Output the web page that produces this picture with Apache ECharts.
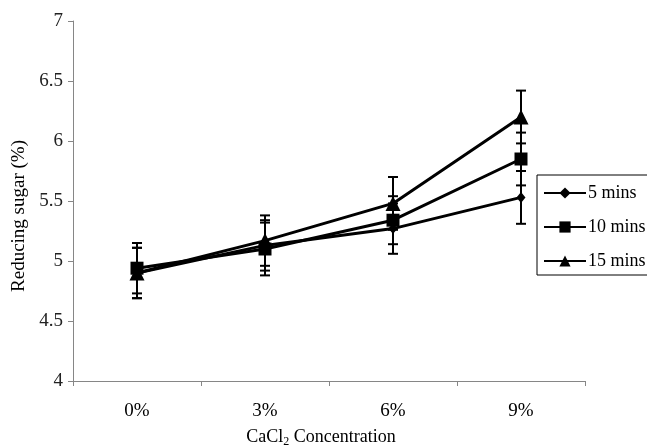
<!DOCTYPE html>
<html>
<head>
<meta charset="utf-8">
<script src="https://cdn.jsdelivr.net/npm/echarts@6/dist/echarts.min.js"></script>
<style>
  html, body { margin: 0; padding: 0; background: #fff; }
  #chart { width: 647px; height: 445px; }
</style>
</head>
<body>
<div id="chart"></div>
<script>
// CaCl2 concentration levels
const categories = ['0%', '3%', '6%', '9%'];

// Reducing sugar (%) per soaking time
const mins5 = [4.90, 5.13, 5.27, 5.53];
const mins10 = [4.94, 5.10, 5.34, 5.85];
const mins15 = [4.90, 5.17, 5.48, 6.20];

// Standard deviation for each point
const err5 = [0.21, 0.21, 0.21, 0.22];
const err10 = [0.21, 0.22, 0.20, 0.22];
const err15 = [0.21, 0.21, 0.22, 0.22];

const yTicks = [4, 4.5, 5, 5.5, 6, 6.5, 7];

const FONT = '"Liberation Serif", "Times New Roman", serif';

function errorData(values, errs) {
  return values.map((v, i) => [i, v - errs[i], v + errs[i]]);
}

function errorSeries(values, errs) {
  return {
    type: 'custom',
    silent: true,
    z: 1,
    data: errorData(values, errs),
    renderItem: function (params, api) {
      const idx = api.value(0);
      const lo = api.coord([idx, api.value(1)]);
      const hi = api.coord([idx, api.value(2)]);
      const cap = 5;
      const style = { stroke: '#000', lineWidth: 2 };
      return {
        type: 'group',
        children: [
          { type: 'line', shape: { x1: lo[0], y1: lo[1], x2: hi[0], y2: hi[1] }, style: style },
          { type: 'line', shape: { x1: lo[0] - cap, y1: lo[1], x2: lo[0] + cap, y2: lo[1] }, style: style },
          { type: 'line', shape: { x1: hi[0] - cap, y1: hi[1], x2: hi[0] + cap, y2: hi[1] }, style: style }
        ]
      };
    }
  };
}

function lineSeries(name, values, symbol, size) {
  return {
    name: name,
    type: 'line',
    data: values,
    symbol: symbol,
    symbolSize: size,
    showSymbol: true,
    z: 3,
    lineStyle: { color: '#000', width: 3 },
    itemStyle: { color: '#000', borderWidth: 0 },
    emphasis: { disabled: true },
    animation: false
  };
}

const chart = echarts.init(document.getElementById('chart'), null, { renderer: 'canvas' });

chart.setOption({
  animation: false,
  backgroundColor: '#fff',
  textStyle: { fontFamily: FONT },
  grid: { left: 73, top: 21, right: 62, bottom: 64, containLabel: false, outerBoundsMode: 'none' },
  legend: {
    orient: 'vertical',
    left: 537,
    top: 175,
    padding: [9, 6, 5, 6],
    backgroundColor: '#fff',
    borderColor: '#000',
    borderWidth: 1,
    itemWidth: 42,
    itemHeight: 14,
    itemGap: 16,
    textStyle: { fontFamily: FONT, fontSize: 18, color: '#000', padding: [0, 0, 0, -3] },
    data: ['5 mins', '10 mins', '15 mins']
  },
  xAxis: {
    type: 'category',
    data: categories,
    boundaryGap: true,
    name: 'CaCl{sub|2} Concentration',
    nameLocation: 'middle',
    nameGap: 46,
    nameTextStyle: {
      fontFamily: FONT, fontSize: 18, color: '#000',
      padding: [0, 16, 0, 0],
      rich: { sub: { fontFamily: FONT, fontSize: 12, color: '#000', verticalAlign: 'bottom', padding: [9, 0, 0, 0] } }
    },
    axisLine: { show: true, lineStyle: { color: '#868686', width: 1 } },
    axisTick: { show: true, alignWithLabel: false, length: 5, lineStyle: { color: '#868686' } },
    axisLabel: { fontFamily: FONT, fontSize: 19, color: '#000', margin: 21 },
    splitLine: { show: false }
  },
  yAxis: {
    type: 'value',
    min: yTicks[0],
    max: yTicks[yTicks.length - 1],
    interval: 0.5,
    name: 'Reducing sugar (%)',
    nameLocation: 'middle',
    nameGap: 42,
    nameTextStyle: { fontFamily: FONT, fontSize: 19, color: '#000', padding: [0, 30, 0, 0] },
    axisLine: { show: true, lineStyle: { color: '#868686', width: 1 } },
    axisTick: { show: true, inside: false, length: 5, lineStyle: { color: '#868686' } },
    axisLabel: { fontFamily: FONT, fontSize: 19, color: '#222', margin: 10 },
    splitLine: { show: false }
  },
  series: [
    errorSeries(mins5, err5),
    errorSeries(mins10, err10),
    errorSeries(mins15, err15),
    lineSeries('5 mins', mins5, 'diamond', [9, 11]),
    lineSeries('10 mins', mins10, 'rect', 13),
    lineSeries('15 mins', mins15, 'triangle', 15)
  ]
});
</script>
</body>
</html>
